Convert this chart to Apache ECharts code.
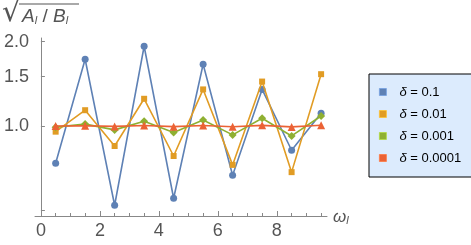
<!DOCTYPE html>
<html>
<head>
<meta charset="utf-8">
<script src="https://cdn.jsdelivr.net/npm/echarts@6/dist/echarts.min.js"></script>
<style>html,body{margin:0;padding:0;background:#fff;}#c{width:471px;height:245px;}</style>
</head>
<body>
<div id="c"></div>
<script>
const xValues = [0.5, 1.5, 2.5, 3.5, 4.5, 5.5, 6.5, 7.5, 8.5, 9.5];
const seriesNames = ['δ = 0.1', 'δ = 0.01', 'δ = 0.001', 'δ = 0.0001'];
const delta1e1 = [0.736, 1.73, 0.521, 1.925, 0.552, 1.66, 0.667, 1.35, 0.819, 1.11];
const delta1e2 = [0.954, 1.138, 0.848, 1.25, 0.781, 1.35, 0.726, 1.44, 0.684, 1.53];
const delta1e3 = [0.99, 1.015, 0.968, 1.04, 0.947, 1.05, 0.929, 1.065, 0.921, 1.085];
const delta1e4 = [1.0, 1.002, 0.996, 1.003, 0.994, 1.004, 0.993, 1.005, 0.992, 1.006];
const xTicks = [0, 2, 4, 6, 8];
const yLabelValues = [1.0, 1.5, 2.0];
const yTickValues = [0.5, 1.0, 1.5, 2.0];

const colors = ['#5E81B5', '#E19C24', '#8FB032', '#EB6235'];
const symbols = ['circle', 'rect', 'diamond', 'triangle'];
const symbolSizes = [7, 6, 8, 8];
const allData = [delta1e1, delta1e2, delta1e3, delta1e4];

const font = 'Liberation Sans';
const chart = echarts.init(document.getElementById('c'), null, {renderer: 'canvas'});

const series = allData.map((vals, i) => ({
  name: seriesNames[i],
  type: 'line',
  data: xValues.map((x, j) => [x, vals[j]]),
  symbol: symbols[i],
  symbolSize: symbolSizes[i],
  showAllSymbol: true,
  lineStyle: {color: colors[i], width: 1.6},
  itemStyle: {color: colors[i]},
  emphasis: {disabled: true},
  animation: false,
  z: 2 + i
}));

chart.setOption({
  animation: false,
  grid: {left: 35, right: 144, top: 38, bottom: 29, containLabel: false, outerBoundsMode: 'none'},
  legend: {
    orient: 'vertical',
    left: 369,
    top: 74,
    padding: [11, 13, 12, 10],
    itemGap: 8,
    itemWidth: 7,
    itemHeight: 7,
    icon: 'rect',
    backgroundColor: '#DCEBFD',
    borderColor: '#000',
    borderWidth: 1,
    borderRadius: 0,
    data: seriesNames.map((n, i) => ({name: n, icon: 'rect', itemStyle: {color: colors[i], borderColor: echarts.color.lift(colors[i], -0.25), borderWidth: 0.8}})),
    formatter: function (name) {
      const parts = name.split(' = ');
      return '{d|' + parts[0] + '}{n| = ' + parts[1] + '}';
    },
    textStyle: {
      padding: [0, 0, 0, 8],
      lineHeight: 14,
      rich: {
        d: {fontFamily: font, fontSize: 13, fontStyle: 'italic', color: '#000', lineHeight: 14},
        n: {fontFamily: font, fontSize: 13, color: '#000', lineHeight: 14}
      }
    },
    selectedMode: false
  },
  xAxis: {
    type: 'value',
    min: -0.2,
    max: 9.7,
    splitLine: {show: false},
    axisLine: {show: true, onZero: false, lineStyle: {color: '#888', width: 1}},
    axisTick: {show: true, inside: true, length: 5, lineStyle: {color: '#888'}, customValues: xTicks},
    minorTick: {show: true, splitNumber: 4, length: 3, lineStyle: {color: '#888'}},
    axisLabel: {show: true, color: '#555', fontFamily: font, fontSize: 18, margin: 6, customValues: xTicks, formatter: v => String(v)},
    name: '{w|ω}{s|l}',
    nameLocation: 'end',
    nameGap: 6,
    nameTextStyle: {
      rich: {
        w: {fontFamily: font, fontSize: 17, fontStyle: 'italic', color: '#555', verticalAlign: 'bottom', lineHeight: 20},
        s: {fontFamily: font, fontSize: 11, fontStyle: 'italic', color: '#555', verticalAlign: 'bottom', lineHeight: 12}
      }
    }
  },
  yAxis: {
    type: 'log',
    logBase: 10,
    min: 0.477,
    max: 2.06,
    splitLine: {show: false},
    axisLine: {show: true, onZero: true, lineStyle: {color: '#888', width: 1}},
    axisTick: {show: true, inside: true, length: 4, lineStyle: {color: '#888'}, customValues: yTickValues},
    minorTick: {show: false},
    axisLabel: {show: true, color: '#555', fontFamily: font, fontSize: 18, margin: 6, customValues: yLabelValues, formatter: v => Number(v).toFixed(1)}
  },
  graphic: [
    {type: 'text', left: 2, top: -1, style: {text: '√', fontFamily: 'DejaVu Sans', fontSize: 29, fill: '#555'}, z: 10},
    {type: 'line', shape: {x1: 19, y1: 4, x2: 79, y2: 4}, style: {stroke: '#555', lineWidth: 1.2}, z: 10},
    {type: 'text', left: 22, top: 7, style: {
      text: '{a|A}{s|l}{n| / }{a|B}{s|l}',
      rich: {
        a: {fontFamily: font, fontSize: 19, fontStyle: 'italic', fill: '#555', color: '#555', verticalAlign: 'bottom', lineHeight: 22},
        s: {fontFamily: font, fontSize: 11, fontStyle: 'italic', fill: '#555', color: '#555', verticalAlign: 'bottom', lineHeight: 12},
        n: {fontFamily: font, fontSize: 19, fill: '#555', color: '#555', verticalAlign: 'bottom', lineHeight: 22}
      }
    }, z: 10}
  ],
  series: series
});
</script>
</body>
</html>
